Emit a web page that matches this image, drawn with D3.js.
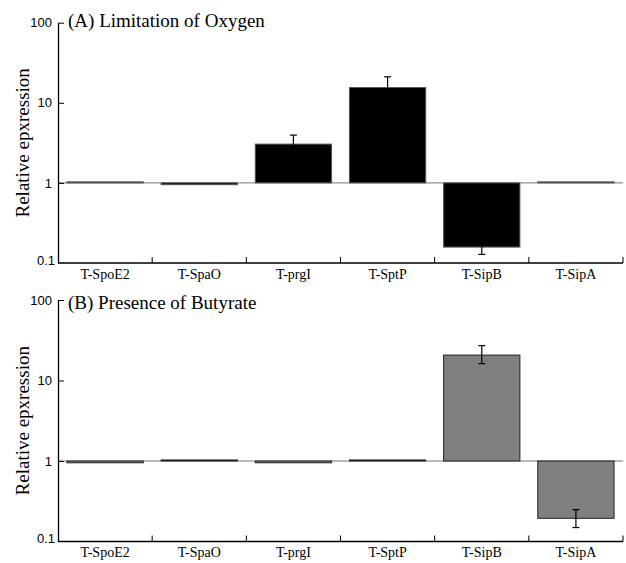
<!DOCTYPE html>
<html>
<head>
<meta charset="utf-8">
<script src="https://cdn.jsdelivr.net/npm/d3@7"></script>
<style>
  body { margin: 0; background: #fff; }
</style>
</head>
<body>
<svg class="plot" width="626" height="563"></svg>
<script>
// gene names along the x axis
var genes = ["T-SpoE2", "T-SpaO", "T-prgI", "T-SptP", "T-SipB", "T-SipA"];
var yTicks = [0.1, 1, 10, 100];

// (A) limitation of oxygen
var oxyValues = [1.03, 0.95, 3.05, 15.5, 0.158, 1.03];
var oxyErrLow = [1.03, 0.95, 2.3, 11.5, 0.128, 1.03];
var oxyErrHigh = [1.03, 0.95, 3.95, 21.1, 0.19, 1.03];

// (B) presence of butyrate
var butValues = [0.95, 1.03, 0.95, 1.03, 20.7, 0.194];
var butErrLow = [0.95, 1.03, 0.95, 1.03, 16.2, 0.149];
var butErrHigh = [0.95, 1.03, 0.95, 1.03, 27.1, 0.249];

var svg = d3.select(".plot"),
    left = 58, right = 623;

//band scale: outer padding is half the inner one so band edges line up with the step slots
var x = d3.scaleBand().domain(genes).range([left, right]).paddingInner(0.19).paddingOuter(0.095);

function drawPanel(title, values, lo, hi, fill, stroke, top, bottom, titleY) {
  var g = svg.append("g");
  var y = d3.scaleLog().domain([0.1, 100]).range([bottom, top]);

  //reference line at 1
  g.append("line")
      .attr("x1", left).attr("x2", right)
      .attr("y1", y(1)).attr("y2", y(1))
      .attr("stroke", "#777").attr("stroke-width", 1);

  //bars grow up or down from 1
  g.selectAll(".bar")
      .data(values)
      .enter()
      .append("rect")
      .attr("class", "bar")
      .attr("x", function(d, i) { return x(genes[i]); })
      .attr("width", x.bandwidth())
      .attr("y", function(d) { return Math.min(y(d), y(1)); })
      .attr("height", function(d) { return Math.abs(y(d) - y(1)); })
      .attr("fill", fill)
      .attr("stroke", stroke)
      .attr("stroke-width", 1);

  //error bars (only where there is a spread)
  var err = genes.map(function(k, i) { return {k: k, lo: lo[i], hi: hi[i]}; })
      .filter(function(d) { return d.hi !== d.lo; });
  var eg = g.selectAll(".err").data(err).enter().append("g").attr("class", "err")
      .attr("stroke", "#000").attr("stroke-width", 1.2);
  eg.append("line")
      .attr("x1", function(d) { return x(d.k) + x.bandwidth() / 2; })
      .attr("x2", function(d) { return x(d.k) + x.bandwidth() / 2; })
      .attr("y1", function(d) { return y(d.lo); })
      .attr("y2", function(d) { return y(d.hi); });
  ["lo", "hi"].forEach(function(s) {
    eg.append("line")
        .attr("x1", function(d) { return x(d.k) + x.bandwidth() / 2 - 3.5; })
        .attr("x2", function(d) { return x(d.k) + x.bandwidth() / 2 + 3.5; })
        .attr("y1", function(d) { return y(d[s]); })
        .attr("y2", function(d) { return y(d[s]); });
  });

  //left axis, ticks pointing inward
  var ya = g.append("g")
      .attr("transform", "translate(" + left + ",0)")
      .call(d3.axisLeft(y).tickValues(yTicks).tickFormat(function(d) { return String(d); })
        .tickSizeInner(-6).tickSizeOuter(0).tickPadding(6));
  ya.select(".domain").attr("stroke", "#000").attr("stroke-width", 1.3);
  ya.selectAll(".tick line").attr("stroke", "#000")
      .filter(function(d) { return d === 0.1; }).remove();
  ya.selectAll(".tick text")
      .style("font-family", "'Liberation Sans', Arial, sans-serif")
      .style("font-size", "13px")
      .attr("fill", "#000")
      .filter(function(d) { return d === 0.1; })
      .attr("x", -3).attr("dy", "0.1em");

  //bottom axis: labels from band scale, boundary ticks drawn separately
  var xa = g.append("g")
      .attr("transform", "translate(0," + bottom + ")")
      .call(d3.axisBottom(x).tickSize(0).tickPadding(6));
  xa.select(".domain").remove();
  xa.selectAll(".tick text")
      .style("font-family", "'Liberation Serif', 'Times New Roman', serif")
      .style("font-size", "14px")
      .attr("fill", "#000");
  g.append("line")
      .attr("x1", left).attr("x2", right)
      .attr("y1", bottom).attr("y2", bottom)
      .attr("stroke", "#000").attr("stroke-width", 1.5);
  g.selectAll(".bound")
      .data(genes)
      .enter()
      .append("line")
      .attr("x1", function(d, i) { return left + (i + 1) * x.step(); })
      .attr("x2", function(d, i) { return left + (i + 1) * x.step(); })
      .attr("y1", bottom).attr("y2", bottom - 6)
      .attr("stroke", "#000").attr("stroke-width", 1);

  //panel title
  g.append("text")
      .attr("x", 68).attr("y", titleY)
      .style("font-family", "'Liberation Serif', 'Times New Roman', serif")
      .style("font-size", "19px")
      .text(title);

  //y label
  g.append("text")
      .attr("transform", "translate(29," + ((top + bottom) / 2) + ") rotate(-90)")
      .attr("text-anchor", "middle")
      .style("font-family", "'Liberation Serif', 'Times New Roman', serif")
      .style("font-size", "19px")
      .text("Relative epxression");
}

drawPanel("(A) Limitation of Oxygen", oxyValues, oxyErrLow, oxyErrHigh, "#000", "#555", 22.7, 263, 27);
drawPanel("(B) Presence of Butyrate", butValues, butErrLow, butErrHigh, "#808080", "#222", 300, 541.5, 309);
</script>
</body>
</html>
